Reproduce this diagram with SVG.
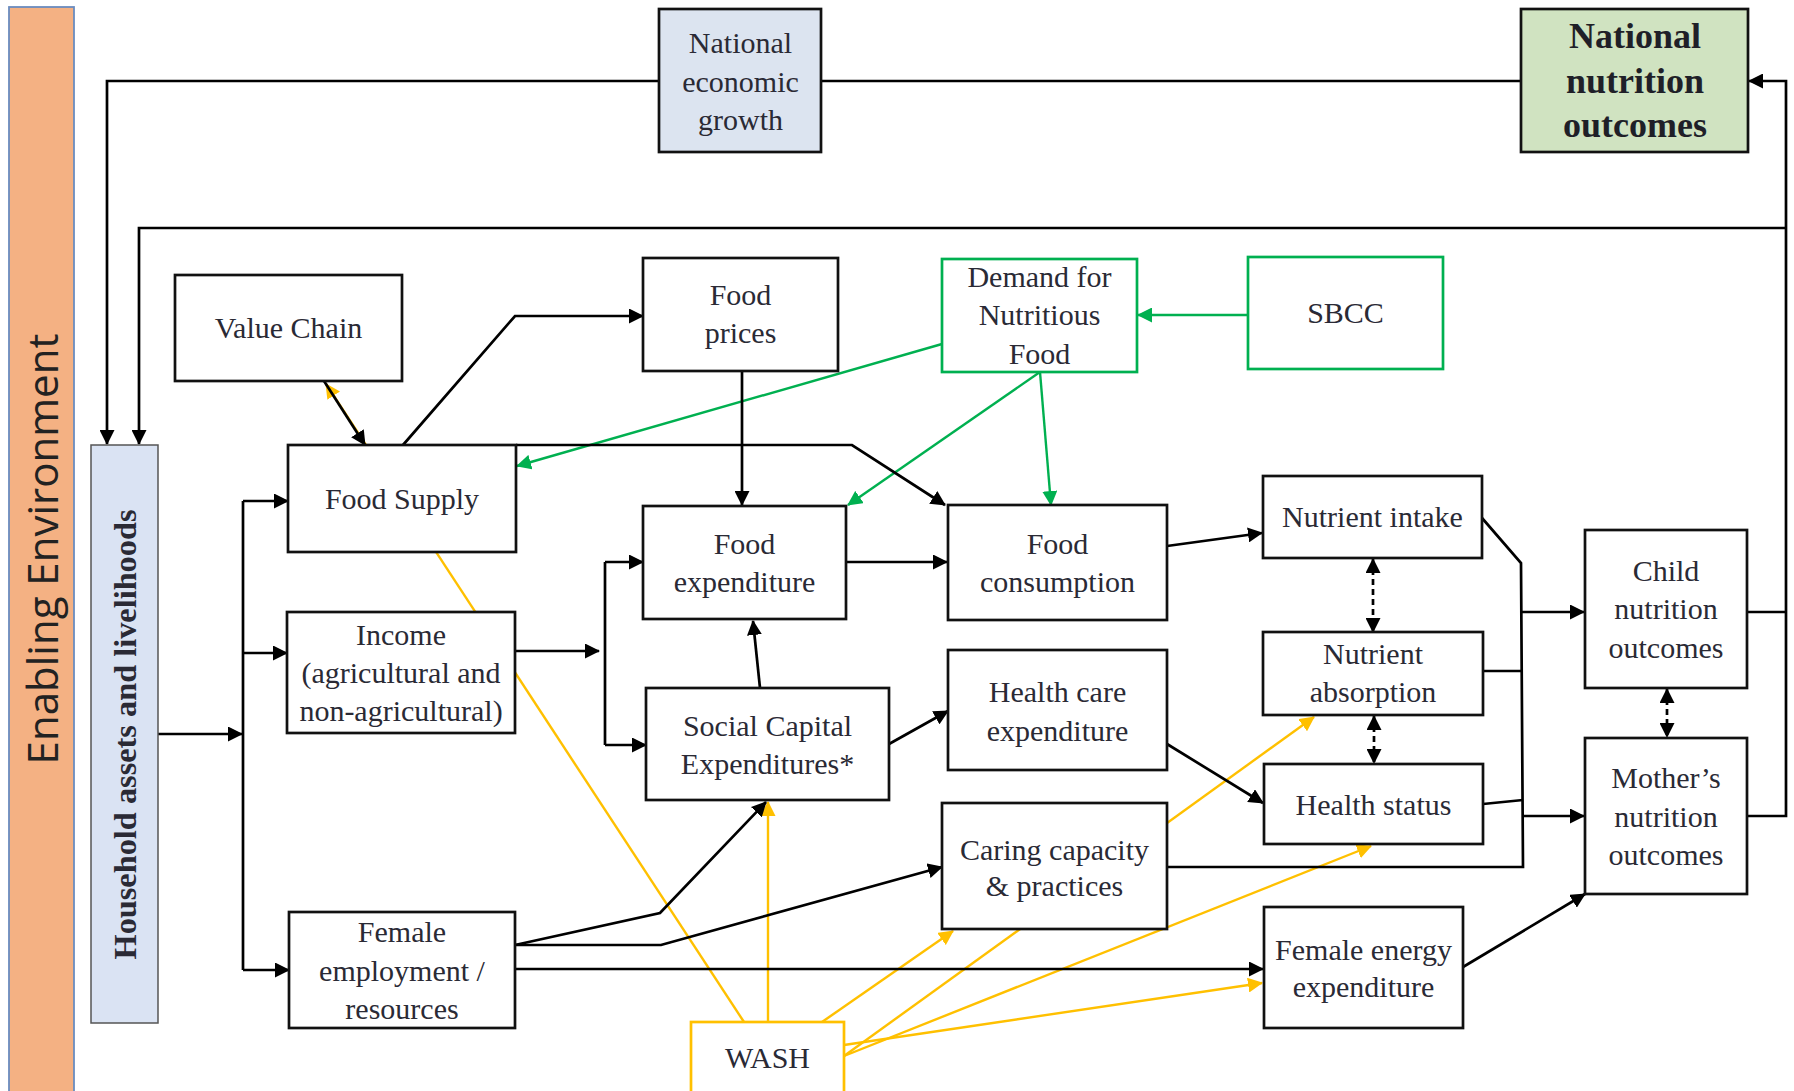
<svg xmlns="http://www.w3.org/2000/svg" width="1794" height="1091" viewBox="0 0 1794 1091">
<defs>
<style>
.box{fill:#fff;stroke:#111;stroke-width:2.7}
.gbox{fill:#fff;stroke:#00B050;stroke-width:2.7}
.ybox{fill:#fff;stroke:#FFC000;stroke-width:2.7}
.t{font-family:"Liberation Serif","Times New Roman",serif;font-size:30px;fill:#2a2a35;text-anchor:middle}
.tb{font-family:"Liberation Serif","Times New Roman",serif;font-size:36px;font-weight:bold;fill:#1f1f28;text-anchor:middle}
.k{fill:none;stroke:#000;stroke-width:2.7}
.g{fill:none;stroke:#00B050;stroke-width:2.4}
.y{fill:none;stroke:#FFC000;stroke-width:2.4}
.d{fill:none;stroke:#000;stroke-width:2.7;stroke-dasharray:6,4}
</style>
<marker id="ak" markerUnits="userSpaceOnUse" markerWidth="15" markerHeight="15" refX="14" refY="7.5" orient="auto-start-reverse"><path d="M0,0 L15,7.5 L0,15 z" fill="#000"/></marker>
<marker id="ag" markerUnits="userSpaceOnUse" markerWidth="15" markerHeight="15" refX="14" refY="7.5" orient="auto"><path d="M0,0 L15,7.5 L0,15 z" fill="#00B050"/></marker>
<marker id="ay" markerUnits="userSpaceOnUse" markerWidth="15" markerHeight="15" refX="14" refY="7.5" orient="auto"><path d="M0,0 L15,7.5 L0,15 z" fill="#FFC000"/></marker>
</defs>
<rect width="1794" height="1091" fill="#fff"/>

<g id="connectors">
<g id="yellow">
<path class="y" d="M744,1022 L326,384" marker-end="url(#ay)"/>
<path class="y" d="M768,1022 V802" marker-end="url(#ay)"/>
<path class="y" d="M822,1022 L953,931" marker-end="url(#ay)"/>
<path class="y" d="M844,1056 L1314,717" marker-end="url(#ay)"/>
<path class="y" d="M844,1056 L1371,846" marker-end="url(#ay)"/>
<path class="y" d="M844,1045 L1262,983" marker-end="url(#ay)"/>
</g>
<g id="green">
<path class="g" d="M1248,315 H1138" marker-end="url(#ag)"/>
<path class="g" d="M942,344 L517,466" marker-end="url(#ag)"/>
<path class="g" d="M1040,372 L848,505" marker-end="url(#ag)"/>
<path class="g" d="M1040,372 L1051,505" marker-end="url(#ag)"/>
</g>
<g id="black">
<path class="k" d="M659,81 H107 V444" marker-end="url(#ak)"/>
<path class="k" d="M1521,81 H822"/>
<path class="k" d="M1747,612 H1786"/>
<path class="k" d="M1747,816 H1786 V81 H1749" marker-end="url(#ak)"/>
<path class="k" d="M1786,228 H139 V444" marker-end="url(#ak)"/>
<path class="k" d="M158,734 H242" marker-end="url(#ak)"/>
<path class="k" d="M243,501 V970"/>
<path class="k" d="M243,501 H288" marker-end="url(#ak)"/>
<path class="k" d="M243,653 H287" marker-end="url(#ak)"/>
<path class="k" d="M243,970 H289" marker-end="url(#ak)"/>
<path class="k" d="M515,651 H599" marker-end="url(#ak)"/>
<path class="k" d="M605,562 V745"/>
<path class="k" d="M605,562 H643" marker-end="url(#ak)"/>
<path class="k" d="M605,745 H646" marker-end="url(#ak)"/>
<path class="k" d="M403,445 L515,316 H643" marker-end="url(#ak)"/>
<path class="k" d="M324,381 L365,445" marker-end="url(#ak)"/>
<path class="k" d="M516,445 H852 L945,505" marker-end="url(#ak)"/>
<path class="k" d="M742,371 V505" marker-end="url(#ak)"/>
<path class="k" d="M760,688 L753,621" marker-end="url(#ak)"/>
<path class="k" d="M846,562 H947" marker-end="url(#ak)"/>
<path class="k" d="M1167,546 L1262,533" marker-end="url(#ak)"/>
<path class="k" d="M889,744 L948,711" marker-end="url(#ak)"/>
<path class="k" d="M1167,744 L1263,803" marker-end="url(#ak)"/>
<path class="k" d="M1482,518 L1521,563 L1523,867 H1167"/>
<path class="k" d="M1483,671 H1522"/>
<path class="k" d="M1483,804 L1523,800"/>
<path class="k" d="M1521,612 H1584" marker-end="url(#ak)"/>
<path class="k" d="M1523,816 H1584" marker-end="url(#ak)"/>
<path class="k" d="M515,945 L660,913 L766,802" marker-end="url(#ak)"/>
<path class="k" d="M515,945 H661 L942,867" marker-end="url(#ak)"/>
<path class="k" d="M515,969 H1263" marker-end="url(#ak)"/>
<path class="k" d="M1463,967 L1585,894" marker-end="url(#ak)"/>
<path class="d" d="M1373,559 V632" marker-start="url(#ak)" marker-end="url(#ak)"/>
<path class="d" d="M1374,716 V763" marker-start="url(#ak)" marker-end="url(#ak)"/>
<path class="d" d="M1667,689 V737" marker-start="url(#ak)" marker-end="url(#ak)"/>
</g>
</g>

<g id="enabling-environment">
<rect x="9" y="7" width="65" height="1100" fill="#F4B183" stroke="#6A8CBF" stroke-width="1.8"/>
<text transform="translate(58,549) rotate(-90)" font-family="'Open Sans','Liberation Sans',sans-serif" font-size="42" fill="#222" text-anchor="middle">Enabling Environment</text>
</g>
<g id="household">
<rect x="91" y="445" width="67" height="578" fill="#DAE3F3" stroke="#555" stroke-width="1.5"/>
<text transform="translate(136,734.5) rotate(-90)" font-family="'Liberation Serif',serif" font-size="32" font-weight="bold" fill="#2a2a35" text-anchor="middle" textLength="450" lengthAdjust="spacingAndGlyphs">Household assets and livelihoods</text>
</g>
<g id="national-economic-growth">
<rect class="box" x="659" y="9" width="162" height="143" fill="#DCE4F0" style="fill:#DCE4F0"/>
<text class="t" x="740.5" y="53">National</text><text class="t" x="740.5" y="92">economic</text><text class="t" x="740.5" y="130">growth</text>
</g>
<g id="national-nutrition-outcomes">
<rect class="box" x="1521" y="9" width="227" height="143" style="fill:#D0E3C1"/>
<text class="tb" x="1635" y="48">National</text><text class="tb" x="1635" y="93">nutrition</text><text class="tb" x="1635" y="137">outcomes</text>
</g>
<g id="value-chain">
<rect class="box" x="175" y="275" width="227" height="106"/>
<text class="t" x="288.5" y="338">Value Chain</text>
</g>
<g id="food-prices">
<rect class="box" x="643" y="258" width="195" height="113"/>
<text class="t" x="740.5" y="305">Food</text><text class="t" x="740.5" y="343">prices</text>
</g>
<g id="demand">
<rect class="gbox" x="942" y="259" width="195" height="113"/>
<text class="t" x="1039.5" y="287">Demand for</text><text class="t" x="1039.5" y="325">Nutritious</text><text class="t" x="1039.5" y="364">Food</text>
</g>
<g id="sbcc">
<rect class="gbox" x="1248" y="257" width="195" height="112"/>
<text class="t" x="1345.5" y="323">SBCC</text>
</g>
<g id="food-supply">
<rect class="box" x="288" y="445" width="228" height="107"/>
<text class="t" x="402" y="509">Food Supply</text>
</g>
<g id="income">
<rect class="box" x="287" y="612" width="228" height="121"/>
<text class="t" x="401" y="645">Income</text><text class="t" x="401" y="683">(agricultural and</text><text class="t" x="401" y="721">non-agricultural)</text>
</g>
<g id="female-employment">
<rect class="box" x="289" y="912" width="226" height="116"/>
<text class="t" x="402" y="942">Female</text><text class="t" x="402" y="981">employment /</text><text class="t" x="402" y="1019">resources</text>
</g>
<g id="food-expenditure">
<rect class="box" x="643" y="506" width="203" height="113"/>
<text class="t" x="744.5" y="554">Food</text><text class="t" x="744.5" y="592">expenditure</text>
</g>
<g id="social-capital">
<rect class="box" x="646" y="688" width="243" height="112"/>
<text class="t" x="767.5" y="736">Social Capital</text><text class="t" x="767.5" y="774">Expenditures*</text>
</g>
<g id="food-consumption">
<rect class="box" x="948" y="505" width="219" height="115"/>
<text class="t" x="1057.5" y="554">Food</text><text class="t" x="1057.5" y="592">consumption</text>
</g>
<g id="health-care">
<rect class="box" x="948" y="650" width="219" height="120"/>
<text class="t" x="1057.5" y="702">Health care</text><text class="t" x="1057.5" y="741">expenditure</text>
</g>
<g id="caring">
<rect class="box" x="942" y="803" width="225" height="126"/>
<text class="t" x="1054.5" y="860">Caring capacity</text><text class="t" x="1054.5" y="896">&amp; practices</text>
</g>
<g id="wash">
<rect class="ybox" x="691" y="1022" width="153" height="80"/>
<text class="t" x="767.5" y="1068">WASH</text>
</g>
<g id="nutrient-intake">
<rect class="box" x="1263" y="476" width="219" height="82"/>
<text class="t" x="1372.5" y="527">Nutrient intake</text>
</g>
<g id="nutrient-absorption">
<rect class="box" x="1263" y="632" width="220" height="83"/>
<text class="t" x="1373" y="664">Nutrient</text><text class="t" x="1373" y="702">absorption</text>
</g>
<g id="health-status">
<rect class="box" x="1264" y="764" width="219" height="80"/>
<text class="t" x="1373.5" y="815">Health status</text>
</g>
<g id="female-energy">
<rect class="box" x="1264" y="907" width="199" height="121"/>
<text class="t" x="1363.5" y="960">Female energy</text><text class="t" x="1363.5" y="997">expenditure</text>
</g>
<g id="child-nutrition">
<rect class="box" x="1585" y="530" width="162" height="158"/>
<text class="t" x="1666" y="581">Child</text><text class="t" x="1666" y="619">nutrition</text><text class="t" x="1666" y="658">outcomes</text>
</g>
<g id="mother-nutrition">
<rect class="box" x="1585" y="738" width="162" height="156"/>
<text class="t" x="1666" y="788">Mother’s</text><text class="t" x="1666" y="827">nutrition</text><text class="t" x="1666" y="865">outcomes</text>
</g>
</svg>
